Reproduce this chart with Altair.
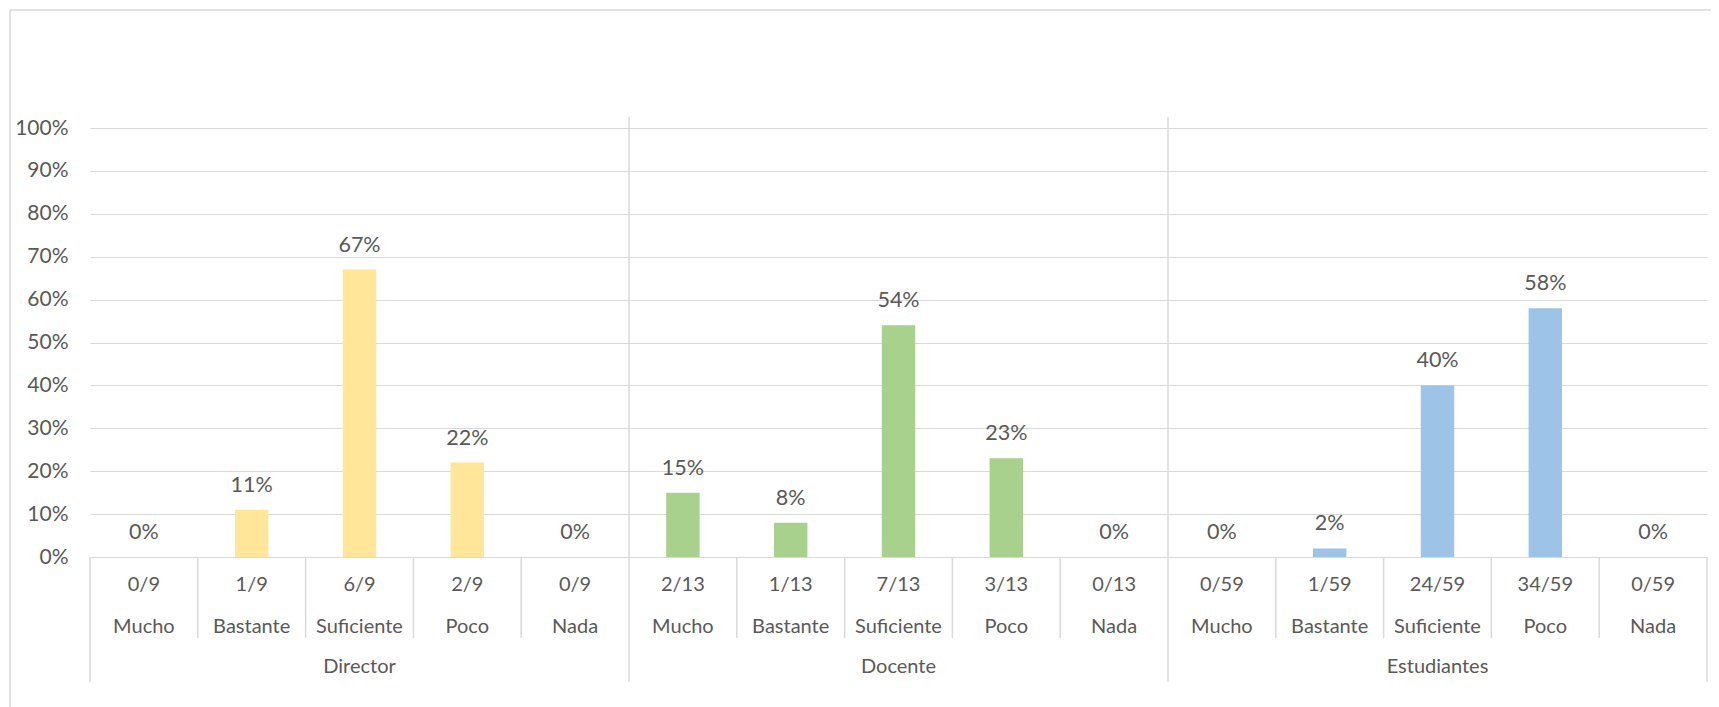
import altair as alt
import pandas as pd

groups = ["Director", "Docente", "Estudiantes"]
categories = ["Mucho", "Bastante", "Suficiente", "Poco", "Nada"]
director_vals = [0.00, 0.11, 0.67, 0.22, 0.00]
docente_vals = [0.15, 0.08, 0.54, 0.23, 0.00]
estud_vals = [0.00, 0.02, 0.40, 0.58, 0.00]
director_frac = ["0/9", "1/9", "6/9", "2/9", "0/9"]
docente_frac = ["2/13", "1/13", "7/13", "3/13", "0/13"]
estud_frac = ["0/59", "1/59", "24/59", "34/59", "0/59"]
colors = ["#FFE699", "#A9D18E", "#9DC3E6"]

vals = [director_vals, docente_vals, estud_vals]
fracs = [director_frac, docente_frac, estud_frac]
rows = []
for gi, g in enumerate(groups):
    for ci, c in enumerate(categories):
        rows.append({"key": f"{g}|{c}", "group": g, "cat": c,
                     "frac": fracs[gi][ci], "value": vals[gi][ci],
                     "first": ci == 0, "gfirst": gi > 0 and ci == 0})
df = pd.DataFrame(rows)
keys = list(df["key"])
gdf = pd.DataFrame({"key": [f"{g}|{categories[2]}" for g in groups], "group": groups})
last_df = pd.DataFrame({"key": [keys[-1]]})

W, H = 1617, 429
FONT = "Lato"
TXT = "#595959"
GRID = "#D9D9D9"
FS = 20

xs = alt.Scale(domain=keys, paddingInner=0, paddingOuter=0)
X = alt.X("key:N", scale=xs, axis=None)
Xl = alt.X("key:N", scale=xs, axis=None, bandPosition=0)

base = alt.Chart(df)

bars = base.mark_bar(width=alt.RelativeBandSize(0.31)).encode(
    x=X,
    y=alt.Y("value:Q", scale=alt.Scale(domain=[0, 1]),
            axis=alt.Axis(values=[i / 10 for i in range(11)], format=".0%", title=None,
                          domain=False, ticks=False, labelPadding=22,
                          labelFontSize=21, labelColor=TXT, labelFont=FONT,
                          gridColor=GRID, gridWidth=1)),
    color=alt.Color("group:N", scale=alt.Scale(domain=groups, range=colors), legend=None),
)

vlabels = base.mark_text(baseline="alphabetic", dy=-18, fontSize=21.5, font=FONT, color=TXT).encode(
    x=X, y=alt.Y("value:Q"), text=alt.Text("value:Q", format=".0%"))

frac_txt = base.mark_text(baseline="middle", fontSize=FS, font=FONT, color=TXT).encode(
    x=X, y=alt.value(H + 28), text="frac:N")
cat_txt = base.mark_text(baseline="middle", fontSize=FS, font=FONT, color=TXT).encode(
    x=X, y=alt.value(H + 70), text="cat:N")
grp_txt = alt.Chart(gdf).mark_text(baseline="middle", fontSize=FS, font=FONT, color=TXT).encode(
    x=X, y=alt.value(H + 110), text="group:N")

cat_sep = base.transform_filter("!datum.first").mark_rule(color=GRID, strokeWidth=1.5).encode(
    x=Xl, y=alt.value(H), y2=alt.value(H + 81))
grp_sep = base.transform_filter("datum.first").mark_rule(color=GRID, strokeWidth=1.5).encode(
    x=Xl, y=alt.value(H), y2=alt.value(H + 125))
grp_sep_top = base.transform_filter("datum.gfirst").mark_rule(color=GRID, strokeWidth=1.5).encode(
    x=Xl, y=alt.value(-11), y2=alt.value(H))
right_edge = alt.Chart(last_df).mark_rule(color=GRID, strokeWidth=1.5).encode(
    x=alt.X("key:N", scale=xs, axis=None, bandPosition=1), y=alt.value(H), y2=alt.value(H + 125))

border_top = alt.Chart(last_df).mark_rule(color=GRID, strokeWidth=1.5).encode(
    x=alt.value(-80), x2=alt.value(W + 20), y=alt.value(-118))
border_left = alt.Chart(last_df).mark_rule(color=GRID, strokeWidth=1.5).encode(
    x=alt.value(-80), y=alt.value(-118), y2=alt.value(H + 160))

chart = alt.layer(grp_sep_top, bars, vlabels, frac_txt, cat_txt, grp_txt,
                  cat_sep, grp_sep, right_edge, border_top, border_left).properties(
    width=W, height=H,
    autosize=alt.AutoSizeParams(type="none"),
    padding={"left": 82, "top": 120, "right": 4, "bottom": 150},
    background="white",
).configure_view(stroke=None)

chart.save("out.html", embed_options={"renderer": "svg", "actions": False})
